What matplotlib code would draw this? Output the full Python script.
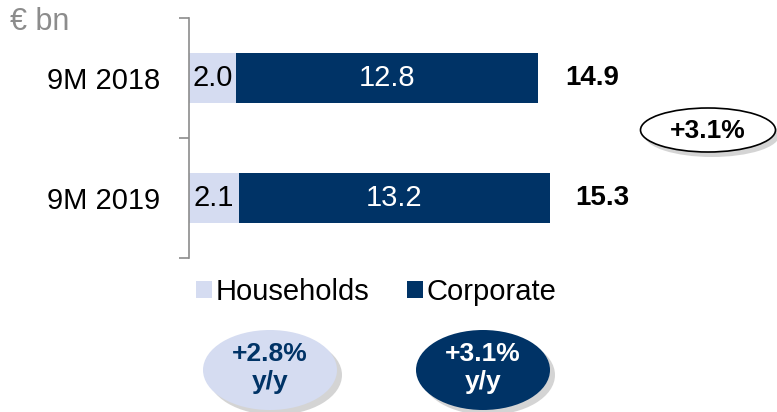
import numpy as np
import matplotlib.pyplot as plt
from matplotlib.patches import Ellipse

plt.rcParams['font.family'] = ['Liberation Sans', 'DejaVu Sans']

periods = ['9M 2018', '9M 2019']
households = [2.0, 2.1]
corporate = [12.8, 13.2]
totals = [14.9, 15.3]
growth_total = '+3.1%'
growth_households = '+2.8%\ny/y'
growth_corporate = '+3.1%\ny/y'

navy = '#003366'
light = '#d5dcf1'
grey = '#8c8c8c'

W, H = 777, 412
fig = plt.figure(figsize=(W / 100, H / 100), dpi=100)

# main bar axes, placed in pixel terms
ax = fig.add_axes([189 / W, 1 - 258 / H, 1 - 189 / W, 240 / H])
y = np.arange(len(periods))
b1 = ax.barh(y, households, height=0.42, color=light, label='Households')
b2 = ax.barh(y, corporate, left=households, height=0.42, color=navy, label='Corporate')
ax.bar_label(b1, labels=['%.1f' % v for v in households], label_type='center',
             fontsize=21, color='black')
ax.bar_label(b2, labels=['%.1f' % v for v in corporate], label_type='center',
             fontsize=21, color='white')
for i, t in enumerate(totals):
    ax.text(t + 1.05, i, '%.1f' % t, ha='left', va='center', fontsize=20,
            fontweight='bold', color='black')

ax.set_xlim(0, (W - 189) / 23.6)
ax.set_ylim(1.5, -0.5)
ax.set_xticks([])
ax.set_yticks(y)
ax.set_yticklabels(periods, fontsize=21)
ax.set_yticks([-0.5, 0.5, 1.5], minor=True)
ax.tick_params(axis='y', which='major', length=0, pad=21)
ax.tick_params(axis='y', which='minor', length=7, color=grey, width=1.2)
for s in ['top', 'right', 'bottom']:
    ax.spines[s].set_visible(False)
ax.spines['left'].set_color(grey)
ax.spines['left'].set_linewidth(1.2)

fig.text(10 / W, 1 - 22 / H, '€ bn', color=grey, fontsize=22, va='center')

fig.legend(handles=[b1, b2], loc='center', bbox_to_anchor=(376 / W, 1 - 292 / H),
           ncol=2, frameon=False, fontsize=21, handlelength=0.55, handleheight=0.55,
           handletextpad=0.12, columnspacing=1.3)

# overlay for the growth bubbles
ov = fig.add_axes([0, 0, 1, 1], facecolor='none')
ov.set_xlim(0, W)
ov.set_ylim(H, 0)
ov.axis('off')

ov.add_patch(Ellipse((712, 135), 135, 44, fc='#aaaaaa', ec='none', alpha=0.5))
ov.add_patch(Ellipse((708, 130), 135, 44, fc='white', ec='black', lw=1.2))
ov.text(708, 131, growth_total, ha='center', va='center', fontsize=19,
        fontweight='bold', color='black')

for cx, fc, tc, txt in [(270, light, navy, growth_households),
                        (483, navy, 'white', growth_corporate)]:
    ov.add_patch(Ellipse((cx + 5, 375), 134, 80, fc='#aaaaaa', ec='none', alpha=0.5))
    ov.add_patch(Ellipse((cx, 370), 134, 80, fc=fc, ec='none'))
    ov.text(cx, 368, txt, ha='center', va='center', fontsize=19,
            fontweight='bold', color=tc, linespacing=1.2)

fig.savefig('out.png', dpi=100)
